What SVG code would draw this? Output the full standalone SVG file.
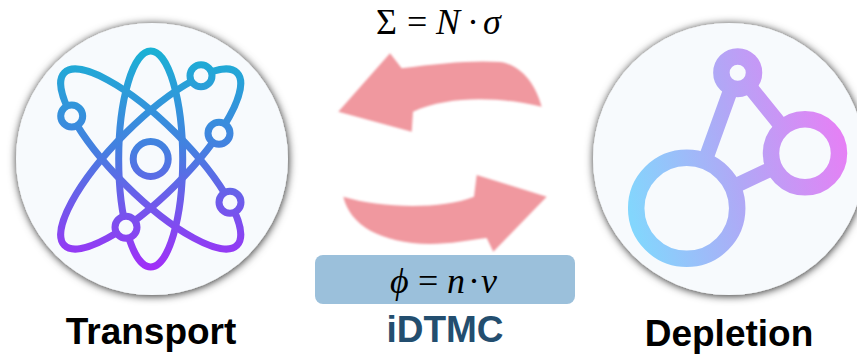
<svg xmlns="http://www.w3.org/2000/svg" width="857" height="354" viewBox="0 0 857 354">
<style>
.disc{fill:#f7fafd;filter:url(#shadow)}
.atom{fill:none;stroke:url(#atomGrad);stroke-width:7}
.ring{fill:#f7fafd;stroke:url(#atomGrad);stroke-width:7}
.dep{fill:none;stroke:url(#depGrad);stroke-width:16.5}
.flow{fill:#f0989f;filter:url(#soft)}
.label{font-family:"Liberation Sans",Arial,sans-serif;font-weight:700;font-size:37px;text-anchor:middle}
.math{font-family:"Liberation Serif","Times New Roman",serif;font-size:36px;fill:#000}
.it{font-style:italic}
</style>
<defs>
<linearGradient id="atomGrad" gradientUnits="userSpaceOnUse" x1="150" y1="48" x2="150" y2="270">
<stop offset="0" stop-color="#19b2d4"/><stop offset="0.45" stop-color="#4480e0"/><stop offset="1" stop-color="#a22df8"/>
</linearGradient>
<linearGradient id="depGrad" gradientUnits="userSpaceOnUse" x1="628" y1="200" x2="848" y2="150">
<stop offset="0" stop-color="#83d6fd"/><stop offset="0.5" stop-color="#b0a8f6"/><stop offset="1" stop-color="#e680f5"/>
</linearGradient>
<filter id="shadow" x="-10%" y="-10%" width="120%" height="120%">
<feDropShadow dx="0.5" dy="1" stdDeviation="4" flood-color="#000" flood-opacity="0.85"/>
</filter>
<filter id="soft" x="-5%" y="-5%" width="110%" height="110%"><feGaussianBlur stdDeviation="0.8"/></filter>
</defs>
<rect width="857" height="354" fill="#fff"/>
<g id="transport">
<circle class="disc" cx="152" cy="159" r="136"/>
<path class="atom" d="M150.7 51A32 108 0 0 1 150.7 267A32 108 0 0 1 150.7 51Z"/>
<path class="atom" d="M64.4 72.7A122 36 45 0 1 237 245.3A122 36 45 0 1 64.4 72.7Z"/>
<path class="atom" d="M237 72.7A122 36 -45 0 1 64.4 245.3A122 36 -45 0 1 237 72.7Z"/>
<circle class="atom" cx="150.7" cy="159" r="17.5"/>
<circle class="ring" cx="71.7" cy="116" r="11"/>
<circle class="ring" cx="201" cy="75.7" r="11"/>
<circle class="ring" cx="219" cy="133.3" r="11"/>
<circle class="ring" cx="230" cy="202.3" r="11"/>
<circle class="ring" cx="126" cy="227.3" r="11"/>
<text class="label" x="151" y="344" fill="#000">Transport</text>
</g>
<g id="depletion">
<circle class="disc" cx="729" cy="159" r="136"/>
<path class="dep" style="stroke-width:15" d="M730 91.7L705.7 159M752.3 90L781 125.5M735.5 185.8L771 169"/>
<circle class="dep" cx="737.7" cy="72.7" r="16.3"/>
<circle class="dep" cx="805" cy="153.3" r="34"/>
<circle class="dep" cx="686.7" cy="208.3" r="50.5"/>
<text class="label" x="729" y="346" fill="#000">Depletion</text>
</g>
<g id="connectors">
<path class="flow" d="M338.3 111.7L390 53.3L401.7 68.3C440 63 475 60 500 62C522 65 536 85 541.7 106.7C500 97 450 95 413 111.7L411.7 131.7Z"/>
<path class="flow" d="M546.7 196.7L476.7 175L474 196.7C440 210 380 208 343.3 196.7C350 225 380 243 430 244C450 244 470 240 486.7 238L493.3 251.7Z"/>
</g>
<g id="idtmc">
<text class="math" x="376" y="34">Σ</text>
<text class="math" x="407" y="34">=</text>
<text class="math it" x="436" y="34">N</text>
<text class="math" x="467" y="34">·</text>
<text class="math it" x="483" y="34">σ</text>
<rect x="315" y="255" width="260" height="49" rx="8" fill="#9bc0db"/>
<text class="math it" x="390" y="293">ϕ</text>
<text class="math" x="418" y="293">=</text>
<text class="math it" x="447" y="293">n</text>
<text class="math" x="468" y="293">·</text>
<text class="math it" x="481" y="293">v</text>
<text class="label" x="445" y="342" fill="#234e6f">iDTMC</text>
</g>
</svg>
